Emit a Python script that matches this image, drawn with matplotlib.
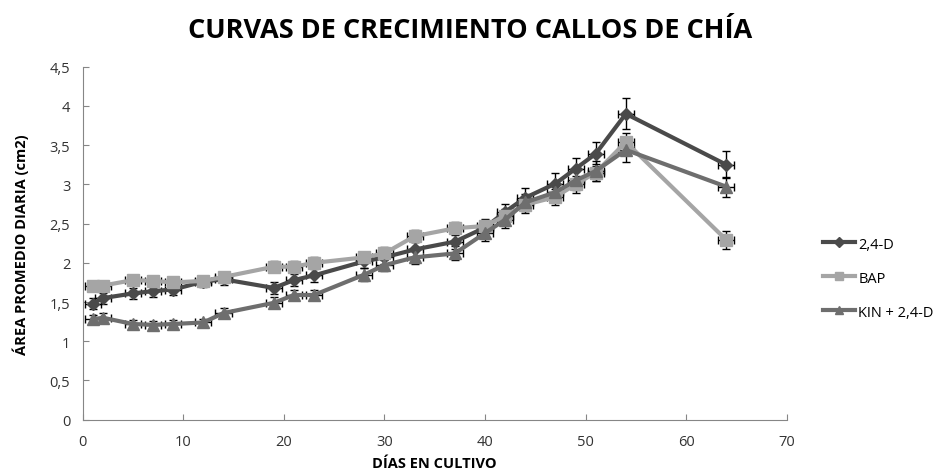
import numpy as np
import matplotlib
matplotlib.use("Agg")
import matplotlib.pyplot as plt
from matplotlib.lines import Line2D

plt.rcParams['font.family'] = ['Open Sans', 'DejaVu Sans']

# days in culture
dias = [1, 2, 5, 7, 9, 12, 14, 19, 21, 23, 28, 30, 33, 37, 40, 42, 44, 47, 49, 51, 54, 64]

# mean daily area (cm2) per treatment
d24 = [1.48, 1.55, 1.61, 1.64, 1.66, 1.76, 1.79, 1.68, 1.78, 1.84, 2.02, 2.07,
       2.17, 2.27, 2.45, 2.65, 2.83, 3.01, 3.20, 3.39, 3.90, 3.25]
bap = [1.71, 1.71, 1.78, 1.77, 1.75, 1.77, 1.82, 1.95, 1.95, 2.00, 2.07, 2.12,
       2.34, 2.44, 2.47, 2.60, 2.74, 2.84, 3.00, 3.15, 3.54, 2.29]
kin = [1.28, 1.30, 1.22, 1.21, 1.22, 1.24, 1.36, 1.49, 1.59, 1.59, 1.85, 1.97,
       2.07, 2.12, 2.38, 2.55, 2.77, 2.90, 3.05, 3.17, 3.44, 2.97]

# error bars
err_d24 = [0.07, 0.07, 0.07, 0.08, 0.07, 0.07, 0.07, 0.08, 0.08, 0.08, 0.08, 0.09,
           0.09, 0.10, 0.10, 0.10, 0.12, 0.13, 0.14, 0.15, 0.20, 0.17]
err_bap = [0.06, 0.06, 0.06, 0.06, 0.06, 0.06, 0.06, 0.07, 0.07, 0.07, 0.07, 0.08,
           0.08, 0.08, 0.09, 0.09, 0.10, 0.10, 0.11, 0.11, 0.12, 0.11]
err_kin = [0.06, 0.06, 0.05, 0.05, 0.05, 0.05, 0.06, 0.07, 0.07, 0.07, 0.08, 0.08,
           0.09, 0.09, 0.10, 0.10, 0.11, 0.12, 0.12, 0.13, 0.15, 0.13]
err_x = 0.8

series = [
    ("2,4-D", d24, err_d24, "#4a4a4a", "D", 6),
    ("BAP", bap, err_bap, "#a5a5a5", "s", 8),
    ("KIN + 2,4-D", kin, err_kin, "#6e6e6e", "^", 8),
]

fig = plt.figure(figsize=(9.4, 4.77), dpi=100)
ax = fig.add_axes([0.088, 0.118, 0.749, 0.740])

for name, vals, err, col, mk, ms in series:
    ax.errorbar(dias, vals, yerr=err, xerr=err_x, color=col, marker=mk,
                markersize=ms, linewidth=3, ecolor="black", elinewidth=1,
                capsize=3, capthick=1, label=name, zorder=3)

ax.set_xlim(0, 70)
ax.set_ylim(0, 4.5)
ax.set_xticks(np.arange(0, 71, 10))
ax.set_yticks(np.arange(0, 4.51, 0.5))
ax.set_yticklabels([f"{v:g}".replace(".", ",") for v in np.arange(0, 4.51, 0.5)])

for s in ["top", "right"]:
    ax.spines[s].set_visible(False)
for s in ["left", "bottom"]:
    ax.spines[s].set_color("#868686")
ax.tick_params(direction="in", colors="#868686", labelcolor="#333333",
               labelsize=10.5, length=4)
ax.tick_params(axis="x", pad=10)
ax.tick_params(axis="y", pad=9)

ax.set_xlabel("DÍAS EN CULTIVO", fontsize=10.5, fontweight="bold", labelpad=5)
ax.set_ylabel("ÁREA PROMEDIO DIARIA (cm2)", fontsize=10.5, fontweight="bold", labelpad=15)

fig.suptitle("CURVAS DE CRECIMIENTO CALLOS DE CHÍA", x=0.5, y=0.962,
             fontsize=19.5, fontweight="bold")

leg_handles = [Line2D([0], [0], color=c, marker=m, markersize=ms * 0.8, linewidth=3)
               for _, _, _, c, m, ms in series]
fig.legend(leg_handles, [s[0] for s in series], loc="center left",
           bbox_to_anchor=(0.862, 0.415), frameon=False, fontsize=10.5,
           handlelength=2.2, handletextpad=0.2, labelspacing=1.3)

plt.savefig("out.png", dpi=100)
plt.close()
